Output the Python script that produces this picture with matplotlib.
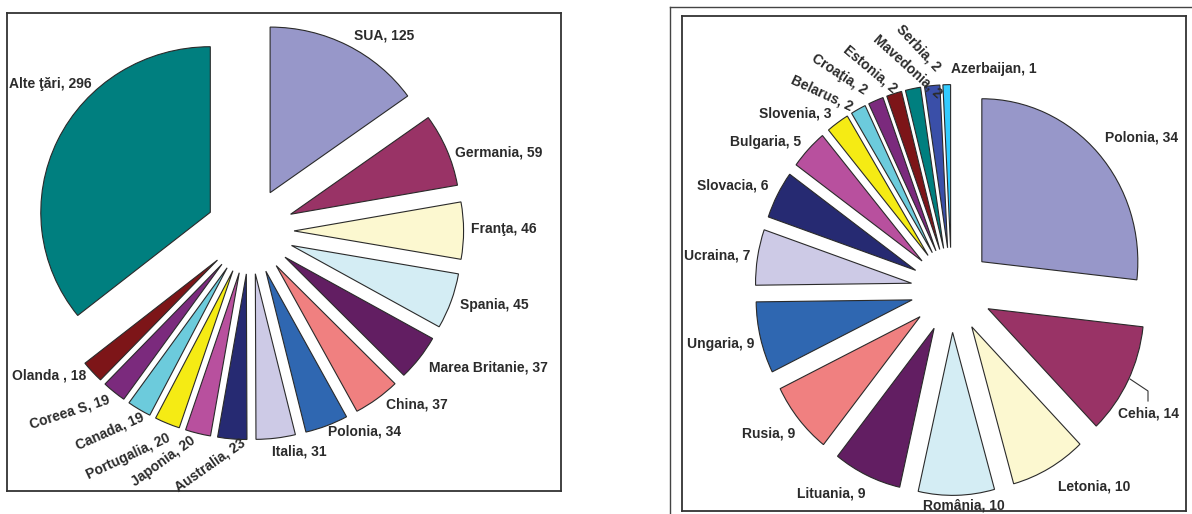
import matplotlib
matplotlib.use('Agg')
import matplotlib.pyplot as plt
from matplotlib.lines import Line2D

plt.rcParams['font.family'] = ['Liberation Sans', 'DejaVu Sans']

# date - stanga
tari_st = ['SUA', 'Germania', 'Franţa', 'Spania', 'Marea Britanie', 'China', 'Polonia',
           'Italia', 'Australia', 'Japonia', 'Portugalia', 'Canada', 'Coreea S', 'Olanda ',
           'Alte ţări']
val_st = [125, 59, 46, 45, 37, 37, 34, 31, 23, 20, 20, 19, 19, 18, 296]

# date - dreapta
tari_dr = ['Polonia', 'Cehia', 'Letonia', 'România', 'Lituania', 'Rusia', 'Ungaria',
           'Ucraina', 'Slovacia', 'Bulgaria', 'Slovenia', 'Belarus', 'Croaţia', 'Estonia',
           'Mavedonia', 'Serbia', 'Azerbaijan']
val_dr = [34, 14, 10, 10, 9, 9, 9, 7, 6, 5, 3, 2, 2, 2, 2, 2, 1]

# paleta (stil Excel, tiparit)
paleta = ['#9797C9', '#993366', '#FCF8D0', '#D4EDF4', '#621E62', '#F08080', '#2F67B1',
          '#CDCAE6', '#262A72', '#B8509E', '#F5EB14', '#6CCBDC', '#7B2A7D', '#7D1518',
          '#007F7F', '#3A4FA8', '#33CCFF']
culori_st = paleta[:14] + ['#007F7F']
culori_dr = paleta[:17]

W, H = 1192, 514
fig = plt.figure(figsize=(W / 100, H / 100), dpi=100)

# pozitii etichete (px): x, y, rotatie
poz_st = [(384, 36, 0), (499, 152, 0), (504, 229.5, 0), (494, 305, 0), (488, 367, 0),
          (417, 404.5, 0), (365, 432, 0), (299, 452, 0), (210, 465, 35), (163, 461, 36),
          (128, 456, 25), (110, 431, 24), (70, 412, 18), (49.5, 376, 0), (50.5, 84, 0)]
poz_dr = [(1141.5, 138, 0), (1148.5, 413, 0), (1094, 486.5, 0), (964, 505, 0),
          (831, 494, 0), (768.5, 434, 0), (720.5, 344, 0), (717, 255, 0),
          (733, 185.5, 0), (765.5, 142, 0), (795, 113, 0), (821.7, 93.3, -25),
          (839, 74, -33), (870, 69, -40), (907.5, 66, -42), (918, 48, -47),
          (994, 68.5, 0)]


def pie_box(frame, center, rx, ry, valori, culori, expl):
    # graficul original e usor intins (rx != ry), ca in Excel
    x0, y0, x1, y1 = frame
    cx, cy = center
    ax = fig.add_axes([x0 / W, 1 - y1 / H, (x1 - x0) / W, (y1 - y0) / H])
    ax.pie(valori, colors=culori, startangle=90, counterclock=False,
           explode=[expl] * len(valori),
           wedgeprops=dict(edgecolor='#2a2a2a', linewidth=0.8))
    ax.set_aspect('auto')
    ax.set_xlim((x0 - cx) / rx, (x1 - cx) / rx)
    ax.set_ylim((cy - y1) / ry, (cy - y0) / ry)
    ax.set_frame_on(True)
    ax.set_xticks([])
    ax.set_yticks([])
    for s in ax.spines.values():
        s.set_color('#333333')
        s.set_linewidth(1.3)
    return ax


def etichete(nume, valori, poz):
    for n, v, (x, y, rot) in zip(nume, valori, poz):
        fig.text(x / W, 1 - y / H, f'{n}, {v}', ha='center', va='center',
                 rotation=rot, rotation_mode='anchor', fontsize=10,
                 fontweight='bold', color='#2b2b2b')


pie_box((7.3, 12.7, 560.7, 490.7), (250, 231), 169.5, 165.6, val_st, culori_st, 0.26)
pie_box((682, 15.7, 1186, 510.5), (951.6, 290), 156, 163, val_dr, culori_dr, 0.26)

etichete(tari_st, val_st, poz_st)
etichete(tari_dr, val_dr, poz_dr)

# chenar exterior (dreapta)
fig.add_artist(Line2D([670 / W, 1], [1 - 7.3 / H] * 2, transform=fig.transFigure,
                      color='#444444', lw=1.0))
fig.add_artist(Line2D([670 / W] * 2, [1 - 7.3 / H, 0], transform=fig.transFigure,
                      color='#444444', lw=1.0))

# linie de legatura Cehia
lx = [1130, 1148, 1148]
ly = [379, 391, 401]
fig.add_artist(Line2D([v / W for v in lx], [1 - v / H for v in ly],
                      transform=fig.transFigure, color='#333333', lw=0.8))

plt.savefig('out.png', dpi=100)
